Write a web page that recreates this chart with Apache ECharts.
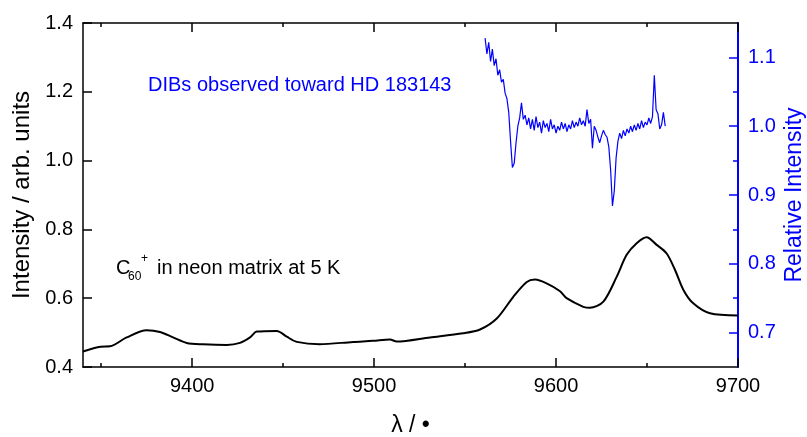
<!DOCTYPE html>
<html>
<head>
<meta charset="utf-8">
<script src="https://cdn.jsdelivr.net/npm/echarts@6/dist/echarts.min.js"></script>
<style>
  html, body { margin: 0; padding: 0; background: #fff; }
  #chart { width: 807px; height: 437px; }
</style>
</head>
<body>
<div id="chart"></div>
<script>
// C60+ absorption in neon matrix (left axis)
const wavelength = [9340, 9349.7, 9354.8, 9364, 9375, 9382.3, 9389.5, 9397, 9406, 9419, 9426.3, 9431.8, 9435.5,
  9446.5, 9452, 9457.5, 9470, 9488.4, 9499.4, 9508.7, 9512.4, 9530.7, 9548.9, 9558.2, 9567.4, 9576.5, 9583.9,
  9588.4, 9594.8, 9602.2, 9605.8, 9615, 9618.6, 9626, 9633.3, 9638.8, 9644.3, 9649.8, 9655.3, 9660.8, 9665.4,
  9670, 9675.4, 9684.6, 9700];
const intensity = [0.445, 0.459, 0.460, 0.486, 0.507, 0.502, 0.486, 0.470, 0.466, 0.464, 0.470, 0.486, 0.503,
  0.505, 0.488, 0.473, 0.466, 0.473, 0.476, 0.480, 0.474, 0.486, 0.498, 0.509, 0.541, 0.604, 0.647,
  0.654, 0.643, 0.620, 0.600, 0.575, 0.572, 0.590, 0.662, 0.726, 0.760, 0.777, 0.755, 0.730, 0.682,
  0.624, 0.585, 0.556, 0.550];

// DIB spectrum toward HD 183143 (right axis)
const dibWavelength = [9561, 9562, 9563, 9564, 9565, 9566, 9567, 9568, 9569, 9570,
  9571, 9572, 9573, 9574, 9575, 9576, 9577, 9578, 9579, 9580,
  9581, 9582, 9583, 9584, 9585, 9586, 9587, 9588, 9589, 9590,
  9591, 9592, 9593, 9594, 9595, 9596, 9597, 9598, 9599, 9600,
  9601, 9602, 9603, 9604, 9605, 9606, 9607, 9608, 9609, 9610,
  9611, 9612, 9613, 9614, 9615, 9616, 9617, 9618, 9619, 9620,
  9621, 9622, 9623, 9624, 9625, 9626, 9627, 9628, 9629, 9630,
  9631, 9632, 9633, 9634, 9635, 9636, 9637, 9638, 9639, 9640,
  9641, 9642, 9643, 9644, 9645, 9646, 9647, 9648, 9649, 9650,
  9651, 9652, 9653, 9654, 9655, 9656, 9657, 9658, 9659, 9660];
const dibRelative = [1.128, 1.105, 1.122, 1.094, 1.112, 1.088, 1.098, 1.074, 1.082, 1.064,
  1.068, 1.048, 1.040, 1.020, 0.978, 0.940, 0.946, 0.976, 1.000, 1.012,
  1.034, 1.010, 1.016, 1.002, 1.012, 0.996, 1.010, 0.994, 1.014, 0.998,
  1.006, 0.990, 1.008, 0.998, 1.004, 0.992, 1.010, 0.996, 1.002, 0.990,
  1.000, 0.994, 1.006, 0.996, 1.004, 0.992, 1.002, 0.996, 1.008, 0.998,
  1.006, 1.000, 1.012, 1.002, 1.008, 1.000, 1.024, 1.004, 1.010, 0.968,
  1.000, 0.994, 0.984, 0.976, 0.986, 0.994, 0.988, 0.984, 0.970, 0.936,
  0.884, 0.906, 0.954, 0.978, 0.990, 0.982, 0.994, 0.986, 0.996, 0.990,
  1.000, 0.992, 1.002, 0.994, 1.004, 0.996, 1.008, 0.998, 1.006, 1.002,
  1.012, 1.004, 1.014, 1.074, 1.024, 1.018, 0.996, 1.002, 1.020, 1.000];

// ticks
const xMajorTicks = [9400, 9500, 9600, 9700];
const xMinorTicks = [9350, 9450, 9550, 9650];
const leftTicks = [0.4, 0.6, 0.8, 1.0, 1.2, 1.4];
const rightMajorTicks = [0.7, 0.8, 0.9, 1.0, 1.1];
const rightMinorTicks = [0.75, 0.85, 0.95, 1.05];

const FONT = '"Liberation Sans", Arial, sans-serif';
const BLUE = '#0000ff';

const chart = echarts.init(document.getElementById('chart'), null, { renderer: 'canvas' });

// one x axis, drawn 4 times (bottom/top, major/minor ticks)
function xAxis(position, ticks, len, withLine, withLabel) {
  return {
    type: 'value',
    position: position,
    min: 9340,
    max: 9700,
    axisLine: { show: withLine, lineStyle: { color: '#000', width: 1.5 } },
    axisTick: { show: true, inside: true, length: len, customValues: ticks, lineStyle: { color: '#000', width: 1.5 } },
    axisLabel: {
      show: withLabel,
      customValues: xMajorTicks,
      formatter: (v) => String(v),
      color: '#000',
      fontSize: 20,
      fontFamily: FONT,
      margin: 9
    },
    splitLine: { show: false }
  };
}

function rightAxis(ticks, len, withLine, withLabel) {
  return {
    type: 'value',
    position: 'right',
    min: 0.65,
    max: 1.15,
    axisLine: { show: withLine, lineStyle: { color: BLUE, width: 2 } },
    axisTick: { show: true, inside: true, length: len, customValues: ticks, lineStyle: { color: BLUE, width: 1.5 } },
    axisLabel: {
      show: withLabel,
      customValues: rightMajorTicks,
      formatter: (v) => v.toFixed(1),
      color: BLUE,
      fontSize: 20,
      fontFamily: FONT,
      margin: 10
    },
    splitLine: { show: false },
    name: withLabel ? 'Relative Intensity' : '',
    nameLocation: 'middle',
    nameGap: 45,
    nameMoveOverlap: false,
    nameTextStyle: { color: BLUE, fontSize: 23, fontFamily: FONT }
  };
}

const bottomMinor = xAxis('bottom', xMinorTicks, 4, true, true);
bottomMinor.name = 'λ / •';
bottomMinor.nameLocation = 'middle';
bottomMinor.nameGap = 47;
bottomMinor.nameMoveOverlap = false;
bottomMinor.nameTextStyle = { color: '#000', fontSize: 23, fontFamily: FONT };

const option = {
  backgroundColor: '#fff',
  animation: false,
  grid: { left: 83, right: 69, top: 23, bottom: 70, containLabel: false, outerBoundsMode: 'none' },
  xAxis: [
    bottomMinor,
    xAxis('bottom', xMajorTicks, 9, false, false),
    xAxis('top', xMinorTicks, 4, true, false),
    xAxis('top', xMajorTicks, 9, false, false)
  ],
  yAxis: [
    {
      type: 'value',
      position: 'left',
      min: 0.4,
      max: 1.4,
      axisLine: { show: true, lineStyle: { color: '#000', width: 1.5 } },
      axisTick: { show: true, inside: true, length: 9, customValues: leftTicks, lineStyle: { color: '#000', width: 1.5 } },
      axisLabel: {
        customValues: leftTicks,
        formatter: (v) => v.toFixed(1),
        color: '#000',
        fontSize: 20,
        fontFamily: FONT,
        margin: 10
      },
      splitLine: { show: false },
      name: 'Intensity / arb. units',
      nameLocation: 'middle',
      nameGap: 49,
      nameMoveOverlap: false,
      nameTextStyle: { color: '#000', fontSize: 24, fontFamily: FONT }
    },
    rightAxis(rightMajorTicks, 9, true, true),
    rightAxis(rightMinorTicks, 5, false, false)
  ],
  graphic: [
    {
      type: 'text', x: 148, y: 85,
      style: { text: 'DIBs observed toward HD 183143', fill: BLUE, fontSize: 20, fontFamily: FONT, align: 'left', verticalAlign: 'middle' }
    },
    {
      type: 'text', x: 116, y: 268,
      style: { text: 'C', fill: '#000', fontSize: 20, fontFamily: FONT, align: 'left', verticalAlign: 'middle' }
    },
    {
      type: 'text', x: 128, y: 277,
      style: { text: '60', fill: '#000', fontSize: 12, fontFamily: FONT, align: 'left', verticalAlign: 'middle' }
    },
    {
      type: 'text', x: 141, y: 259,
      style: { text: '+', fill: '#000', fontSize: 12, fontFamily: FONT, align: 'left', verticalAlign: 'middle' }
    },
    {
      type: 'text', x: 157, y: 268,
      style: { text: 'in neon matrix at 5 K', fill: '#000', fontSize: 20, fontFamily: FONT, align: 'left', verticalAlign: 'middle' }
    }
  ],
  series: [
    {
      name: 'C60+',
      type: 'line',
      xAxisIndex: 0,
      yAxisIndex: 0,
      data: wavelength.map((w, i) => [w, intensity[i]]),
      smooth: 0.3,
      showSymbol: false,
      lineStyle: { color: '#000', width: 2 }
    },
    {
      name: 'DIBs',
      type: 'line',
      xAxisIndex: 0,
      yAxisIndex: 1,
      data: dibWavelength.map((w, i) => [w, dibRelative[i]]),
      showSymbol: false,
      lineStyle: { color: BLUE, width: 1.2 }
    }
  ]
};

chart.setOption(option);
</script>
</body>
</html>
